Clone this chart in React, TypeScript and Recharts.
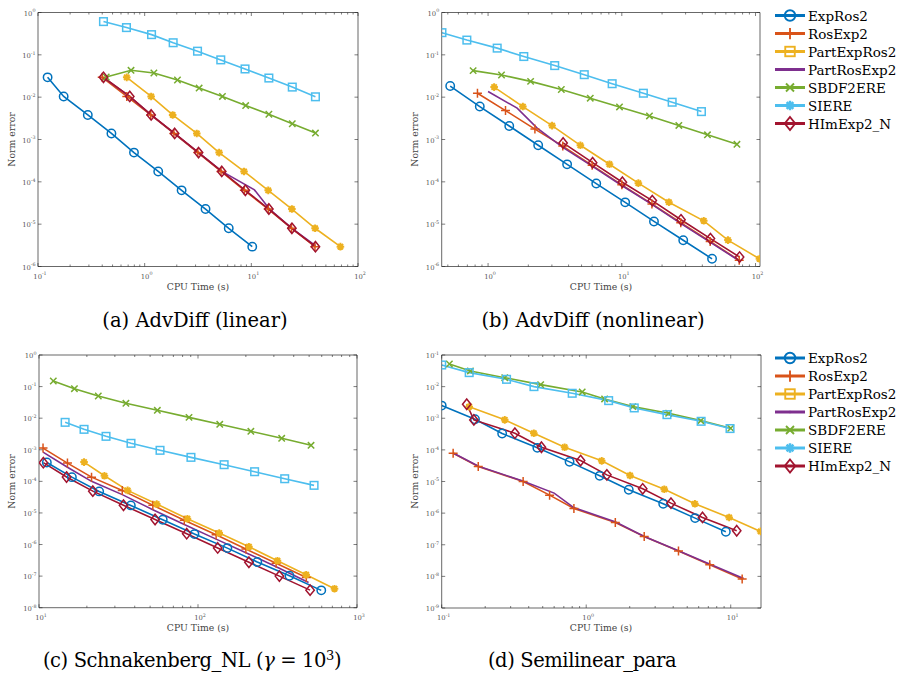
import React from "react";
import { LineChart, Line, XAxis, YAxis } from "recharts";

type Pt = [number, number];

const names = ["ExpRos2", "RosExp2", "PartExpRos2", "PartRosExp2", "SBDF2ERE", "SIERE", "HImExp2_N"];
const colors = ["#0072BD", "#D95319", "#EDB120", "#7E2F8E", "#77AC30", "#4DBEEE", "#A2142F"];
// marker used on the curves, and the one drawn in the legend (they differ in the original)
const plotMarks = ["circle", "plus", "star", "none", "cross", "square", "diamond"];
const legendMarks = ["circle", "plus", "square", "dot", "cross", "star", "diamond"];

// (a) AdvDiff (linear)
const aExpRos2: Pt[] = [[0.123, 2.94e-2], [0.174, 1.04e-2], [0.293, 3.8e-3], [0.488, 1.39e-3], [0.794, 4.9e-4], [1.34, 1.76e-4], [2.22, 6.3e-5], [3.72, 2.28e-5], [6.14, 8.0e-6], [10.2, 2.94e-6]];
const aRosExp2: Pt[] = [[0.4, 2.94e-2], [0.68, 1.04e-2], [1.14, 3.8e-3], [1.88, 1.39e-3], [3.15, 4.9e-4], [5.2, 1.76e-4], [8.6, 6.3e-5], [14.4, 2.28e-5], [23.8, 8.0e-6], [39.5, 2.94e-6]];
const aPartExpRos2: Pt[] = [[0.679, 2.94e-2], [1.15, 1.04e-2], [1.83, 3.8e-3], [3.08, 1.39e-3], [4.99, 4.9e-4], [8.54, 1.76e-4], [14.4, 6.3e-5], [24.0, 2.28e-5], [39.6, 8.0e-6], [68.4, 2.94e-6]];
const aPartRosExp2: Pt[] = [[0.41, 2.94e-2], [0.72, 1.04e-2], [1.15, 3.8e-3], [1.9, 1.39e-3], [3.2, 4.9e-4], [5.3, 1.76e-4], [10.7, 6.45e-5], [14.8, 2.28e-5], [24.0, 8.0e-6], [39.9, 3.1e-6]];
const aSBDF2ERE: Pt[] = [[0.436, 3.0e-2], [0.745, 4.31e-2], [1.22, 3.73e-2], [2.03, 2.54e-2], [3.24, 1.64e-2], [5.36, 1.04e-2], [8.85, 6.34e-3], [14.6, 3.94e-3], [24.2, 2.36e-3], [39.9, 1.42e-3]];
const aSIERE: Pt[] = [[0.411, 0.61], [0.675, 0.44], [1.16, 0.3], [1.85, 0.193], [3.13, 0.122], [5.17, 0.076], [8.73, 0.0464], [14.6, 0.0283], [24.2, 0.0173], [39.9, 0.0102]];
const aHImExp2_N: Pt[] = [[0.411, 2.94e-2], [0.725, 1.04e-2], [1.15, 3.8e-3], [1.91, 1.39e-3], [3.2, 4.9e-4], [5.28, 1.76e-4], [8.79, 6.3e-5], [14.6, 2.28e-5], [24.0, 8.0e-6], [39.9, 2.94e-6]];

// (b) AdvDiff (nonlinear)
const bExpRos2: Pt[] = [[0.521, 1.83e-2], [0.867, 6.0e-3], [1.44, 2.08e-3], [2.37, 7.33e-4], [3.9, 2.59e-4], [6.44, 9.1e-5], [10.6, 3.28e-5], [17.4, 1.16e-5], [28.8, 4.16e-6], [47.3, 1.52e-6]];
const bRosExp2: Pt[] = [[0.833, 1.24e-2], [1.35, 4.82e-3], [2.24, 1.76e-3], [3.62, 7.0e-4], [6.0, 2.45e-4], [10.0, 8.5e-5], [16.8, 3.0e-5], [27.6, 1.08e-5], [45.8, 3.9e-6], [75.5, 1.4e-6]];
const bPartExpRos2: Pt[] = [[1.11, 1.73e-2], [1.82, 6.0e-3], [3.01, 2.13e-3], [4.9, 7.3e-4], [8.09, 2.6e-4], [13.3, 9.3e-5], [22.5, 3.3e-5], [41.0, 1.2e-5], [62.2, 4.2e-6], [107, 1.52e-6]];
const bPartRosExp2: Pt[] = [[1.0, 1.36e-2], [1.65, 5.5e-3], [2.33, 1.85e-3], [3.6, 6.6e-4], [6.0, 2.35e-4], [10.0, 8.2e-5], [16.9, 2.9e-5], [27.7, 1.03e-5], [46.0, 3.7e-6], [76.0, 1.35e-6]];
const bSBDF2ERE: Pt[] = [[0.773, 4.24e-2], [1.26, 3.34e-2], [2.08, 2.36e-2], [3.53, 1.52e-2], [5.81, 9.46e-3], [9.61, 5.89e-3], [16.1, 3.6e-3], [26.7, 2.15e-3], [43.7, 1.29e-3], [72.6, 7.7e-4]];
const bSIERE: Pt[] = [[0.452, 0.334], [0.694, 0.223], [1.17, 0.144], [1.85, 0.0912], [3.15, 0.0557], [5.24, 0.034], [8.47, 0.0208], [14.5, 0.0124], [23.8, 0.0076], [39.4, 0.00456]];
const bHImExp2_N: Pt[] = [[3.64, 8.3e-4], [6.05, 2.83e-4], [10.1, 9.8e-5], [16.9, 3.6e-5], [27.7, 1.27e-5], [46.0, 4.56e-6], [76.0, 1.67e-6]];

// (c) Schnakenberg_NL
const cExpRos2: Pt[] = [[11.2, 3.97e-4], [16.1, 1.36e-4], [23.9, 4.8e-5], [37.8, 1.73e-5], [60.0, 6.1e-6], [95.0, 2.14e-6], [153, 7.7e-7], [236, 2.79e-7], [376, 1.03e-7], [596, 3.54e-8]];
const cRosExp2: Pt[] = [[10.6, 1.13e-3], [15.1, 3.79e-4], [21.4, 1.36e-4], [33.4, 5.17e-5], [52, 1.74e-5], [82, 5.9e-6], [130, 2.05e-6], [200, 7.2e-7], [310, 2.55e-7], [480, 9.0e-8]];
const cPartExpRos2: Pt[] = [[19.2, 4.07e-4], [25.8, 1.5e-4], [36.1, 5.17e-5], [55.0, 1.91e-5], [85.8, 6.55e-6], [136, 2.31e-6], [209, 8.5e-7], [316, 3.07e-7], [479, 1.11e-7], [722, 3.99e-8]];
const cPartRosExp2: Pt[] = [[10.6, 8.4e-4], [15.1, 2.8e-4], [21.4, 1.0e-4], [33.4, 3.8e-5], [52, 1.27e-5], [82, 4.3e-6], [130, 1.48e-6], [205, 5.2e-7], [320, 1.85e-7], [496, 6.3e-8]];
const cSBDF2ERE: Pt[] = [[12.3, 0.15], [16.7, 0.0859], [23.6, 0.0503], [35.2, 0.0295], [55.5, 0.0177], [87.8, 0.0106], [137, 6.38e-3], [215, 3.83e-3], [336, 2.3e-3], [514, 1.38e-3]];
const cSIERE: Pt[] = [[14.6, 7.38e-3], [19.2, 4.43e-3], [26.4, 2.66e-3], [37.9, 1.6e-3], [57.7, 9.6e-4], [90.3, 5.75e-4], [146, 3.37e-4], [227, 2.02e-4], [351, 1.21e-4], [537, 7.47e-5]];
const cHImExp2_N: Pt[] = [[10.65, 3.9e-4], [14.9, 1.37e-4], [21.8, 4.9e-5], [34.0, 1.75e-5], [53.7, 6.2e-6], [84.9, 2.2e-6], [133, 7.8e-7], [209, 2.75e-7], [325, 1.0e-7], [507, 3.6e-8]];

// (d) Semilinear_para
const dExpRos2: Pt[] = [[0.1, 2.51e-3], [0.17, 9.3e-4], [0.262, 3.28e-4], [0.459, 1.16e-4], [0.767, 4.18e-5], [1.24, 1.51e-5], [1.97, 5.46e-6], [3.41, 1.97e-6], [5.67, 6.95e-7], [9.25, 2.58e-7]];
const dRosExp2: Pt[] = [[0.12, 7.85e-5], [0.179, 2.98e-5], [0.366, 1.0e-5], [0.558, 3.7e-6], [0.822, 1.4e-6], [1.59, 5.07e-7], [2.52, 1.83e-7], [4.35, 6.3e-8], [7.16, 2.33e-8], [12.0, 8.2e-9]];
const dPartExpRos2: Pt[] = [[0.155, 2.33e-3], [0.273, 8.9e-4], [0.434, 3.36e-4], [0.709, 1.21e-4], [1.28, 4.5e-5], [2.01, 1.55e-5], [3.47, 5.7e-6], [5.65, 1.97e-6], [9.75, 7.3e-7], [16.1, 2.64e-7]];
const dPartRosExp2: Pt[] = [[0.12, 8.0e-5], [0.18, 3.05e-5], [0.36, 1.05e-5], [0.6, 4.3e-6], [0.82, 1.5e-6], [1.6, 5.2e-7], [2.5, 1.85e-7], [4.35, 6.5e-8], [7.2, 2.4e-8], [12.3, 8.6e-9]];
const dSBDF2ERE: Pt[] = [[0.113, 5.2e-2], [0.158, 3.13e-2], [0.273, 1.92e-2], [0.484, 1.156e-2], [0.938, 6.79e-3], [1.34, 4.08e-3], [2.1, 2.33e-3], [3.72, 1.44e-3], [6.21, 8.4e-4], [10.0, 4.83e-4]];
const dSIERE: Pt[] = [[0.1, 4.83e-2], [0.155, 2.77e-2], [0.281, 1.7e-2], [0.435, 1.0e-2], [0.8, 6.16e-3], [1.43, 3.61e-3], [2.15, 2.12e-3], [3.62, 1.3e-3], [6.24, 8.0e-4], [9.89, 4.72e-4]];
const dHImExp2_N: Pt[] = [[0.149, 2.77e-3], [0.167, 8.86e-4], [0.321, 3.36e-4], [0.49, 1.21e-4], [0.914, 4.6e-5], [1.39, 1.62e-5], [2.46, 5.86e-6], [3.86, 2.07e-6], [6.38, 7.3e-7], [11.0, 2.77e-7]];

// decade ticks
const aXTicks = [0.1, 1, 10, 100];
const bXTicks = [1, 10, 100];
const cXTicks = [10, 100, 1000];
const dXTicks = [0.1, 1, 10];
const abYTicks = [1e-6, 1e-5, 1e-4, 1e-3, 1e-2, 1e-1, 1];
const cYTicks = [1e-8, 1e-7, 1e-6, 1e-5, 1e-4, 1e-3, 1e-2, 1e-1, 1];
const dYTicks = [1e-9, 1e-8, 1e-7, 1e-6, 1e-5, 1e-4, 1e-3, 1e-2, 1e-1];

const captions = ["(a) AdvDiff (linear)", "(b) AdvDiff (nonlinear)", "(c) Schnakenberg_NL (", "(d) Semilinear_para"];

const SERIF = "DejaVu Serif";
const AX = "#262626";
const axisStyle = { stroke: AX, strokeWidth: 0.7 };

const rows = (pts: Pt[]) => pts.map(([t, e]) => ({ t, e }));

const isMajor = (v: number) => Math.abs(Math.log10(v) - Math.round(Math.log10(v))) < 1e-6;
const expOf = (v: number) => String(Math.round(Math.log10(v)));

function withMinors(majors: number[], dom: [number, number]) {
  const out: number[] = [];
  const lo = Math.floor(Math.log10(dom[0]));
  const hi = Math.ceil(Math.log10(dom[1]));
  for (let n = lo; n <= hi; n++) {
    for (let k = 1; k <= 9; k++) {
      const v = k * Math.pow(10, n);
      if (v >= dom[0] * 0.999 && v <= dom[1] * 1.001) out.push(k === 1 ? Math.pow(10, n) : v);
    }
  }
  majors.forEach((m) => { if (!out.includes(m) && m >= dom[0] * 0.999 && m <= dom[1] * 1.001) out.push(m); });
  return out.sort((a, b) => a - b);
}

function Pow10({ x, y, v, anchor }: { x: number; y: number; v: number; anchor: string }) {
  return (
    <text x={x} y={y} textAnchor={anchor as any} fontSize={6.8} fill="#555" fontFamily={SERIF}>
      <tspan>10</tspan>
      <tspan dy={-3.2} fontSize={4.8}>{expOf(v)}</tspan>
    </text>
  );
}

const BottomTick = (p: any) => {
  const v = p.payload.value;
  const maj = isMajor(v);
  return (
    <g>
      <line x1={p.x} x2={p.x} y1={p.y} y2={p.y - (maj ? 3.5 : 2)} stroke={AX} strokeWidth={0.6} />
      {maj && <Pow10 x={p.x + 2} y={p.y + 12} v={v} anchor="middle" />}
    </g>
  );
};
const TopTick = (p: any) => {
  const maj = isMajor(p.payload.value);
  return <line x1={p.x} x2={p.x} y1={p.y} y2={p.y + (maj ? 3.5 : 2)} stroke={AX} strokeWidth={0.6} />;
};
const LeftTick = (p: any) => {
  const v = p.payload.value;
  return (
    <g>
      <line x1={p.x} x2={p.x + 3.5} y1={p.y} y2={p.y} stroke={AX} strokeWidth={0.6} />
      <Pow10 x={p.x - 2.5} y={p.y + 3} v={v} anchor="end" />
    </g>
  );
};
const RightTick = (p: any) => <line x1={p.x} x2={p.x - 3.5} y1={p.y} y2={p.y} stroke={AX} strokeWidth={0.6} />;

function Marker({ kind, x, y, c, s = 1 }: { kind: string; x: number; y: number; c: string; s?: number }) {
  const sw = 1.5 * s;
  if (x == null || y == null) return null;
  switch (kind) {
    case "circle":
      return <circle cx={x} cy={y} r={4.2 * s} fill="none" stroke={c} strokeWidth={sw} />;
    case "plus": {
      const r = 4.5 * s;
      return <path d={`M${x - r},${y}H${x + r}M${x},${y - r}V${y + r}`} stroke={c} strokeWidth={sw} fill="none" />;
    }
    case "cross": {
      const r = 3.2 * s;
      return <path d={`M${x - r},${y - r}L${x + r},${y + r}M${x - r},${y + r}L${x + r},${y - r}`} stroke={c} strokeWidth={sw} fill="none" />;
    }
    case "square": {
      const r = 3.8 * s;
      return <rect x={x - r} y={y - r} width={2 * r} height={2 * r} fill="none" stroke={c} strokeWidth={sw} />;
    }
    case "diamond": {
      const rx = 4.2 * s, ry = 5.2 * s;
      return <polygon points={`${x},${y - ry} ${x + rx},${y} ${x},${y + ry} ${x - rx},${y}`} fill="none" stroke={c} strokeWidth={sw} />;
    }
    case "star": {
      const r = 3.8 * s, d = 2.7 * s;
      return (
        <path
          d={`M${x - r},${y}H${x + r}M${x},${y - r}V${y + r}M${x - d},${y - d}L${x + d},${y + d}M${x - d},${y + d}L${x + d},${y - d}`}
          stroke={c}
          strokeWidth={2 * s}
          fill="none"
        />
      );
    }
    case "dot":
      return <circle cx={x} cy={y} r={1 * s} fill={c} />;
    default:
      return null;
  }
}

type PanelProps = {
  left: number;
  top: number;
  width: number;
  height: number;
  // target plot rectangle, in page pixels
  box: { x0: number; y0: number; x1: number; y1: number };
  xDomain: [number, number];
  yDomain: [number, number];
  xMajor: number[];
  yMajor: number[];
  series: Pt[][];
};

function Panel({ left, top, width, height, box, xDomain, yDomain, xMajor, yMajor, series }: PanelProps) {
  const xTicks = withMinors(xMajor, xDomain);
  const frame = [{ t: xDomain[0], e: yDomain[0] }, { t: xDomain[1], e: yDomain[1] }];
  // each axis takes 1px, so take it off the margins
  const margin = {
    left: box.x0 - left - 1,
    top: box.y0 - top - 1,
    right: left + width - box.x1 - 1,
    bottom: top + height - box.y1 - 1,
  };
  return (
    <div style={{ position: "absolute", left, top }}>
      <LineChart width={width} height={height} margin={margin} style={{ overflow: "visible" }}>
        <XAxis xAxisId="b" type="number" dataKey="t" scale="log" domain={xDomain} allowDataOverflow ticks={xTicks} interval={0}
          height={1} tickSize={0} tickMargin={0} tickLine={false} axisLine={axisStyle} tick={BottomTick} />
        <XAxis xAxisId="t" orientation="top" type="number" dataKey="t" scale="log" domain={xDomain} allowDataOverflow ticks={xTicks} interval={0}
          height={1} tickSize={0} tickMargin={0} tickLine={false} axisLine={axisStyle} tick={TopTick} />
        <YAxis yAxisId="l" type="number" dataKey="e" scale="log" domain={yDomain} allowDataOverflow ticks={yMajor} interval={0}
          width={1} tickSize={0} tickMargin={0} tickLine={false} axisLine={axisStyle} tick={LeftTick} />
        <YAxis yAxisId="r" orientation="right" type="number" dataKey="e" scale="log" domain={yDomain} allowDataOverflow ticks={yMajor} interval={0}
          width={1} tickSize={0} tickMargin={0} tickLine={false} axisLine={axisStyle} tick={RightTick} />
        <Line xAxisId="t" yAxisId="r" data={frame} dataKey="e" stroke="none" dot={false} activeDot={false} isAnimationActive={false} />
        {series.map((pts, i) => (
          <Line
            key={names[i]}
            xAxisId="b"
            yAxisId="l"
            data={rows(pts)}
            dataKey="e"
            name={names[i]}
            stroke={colors[i]}
            strokeWidth={1.6}
            dot={plotMarks[i] === "none" ? false : (p: any) => <Marker key={`${names[i]}-${p.index}`} kind={plotMarks[i]} x={p.cx} y={p.cy} c={colors[i]} />}
            activeDot={false}
            isAnimationActive={false}
          />
        ))}
      </LineChart>
    </div>
  );
}

function LegendBlock({ x, y0, step }: { x: number; y0: number; step: number }) {
  return (
    <g>
      {names.map((n, i) => {
        const y = y0 + i * step;
        return (
          <g key={n}>
            <line x1={x} x2={x + 30} y1={y} y2={y} stroke={colors[i]} strokeWidth={3} />
            <Marker kind={legendMarks[i]} x={x + 15} y={y} c={colors[i]} s={1.25} />
            <text x={x + 33} y={y + 5} fontSize={13.5} fontFamily={SERIF} fill="#000">{n}</text>
          </g>
        );
      })}
    </g>
  );
}

function AxisTitles({ cx, bottom, ylx, cy }: { cx: number; bottom: number; ylx: number; cy: number }) {
  return (
    <g>
      <text x={cx} y={bottom + 23} textAnchor="middle" fontFamily={SERIF} fontSize={9.3} fill="#444">CPU Time (s)</text>
      <text x={ylx} y={cy} textAnchor="middle" fontFamily={SERIF} fontSize={9.3} fill="#444" transform={`rotate(-90 ${ylx} ${cy})`}>Norm error</text>
    </g>
  );
}

const capStyle = { fontFamily: SERIF, fontSize: 19.5, fill: "#000" };

export default function App() {
  return (
    <div style={{ position: "absolute", left: 0, top: 0, width: 897, height: 675, background: "#fff", overflow: "hidden" }}>
      <Panel left={0} top={0} width={390} height={300} box={{ x0: 38, y0: 12.5, x1: 358, y1: 266.5 }}
        xDomain={[0.1, 100]} yDomain={[1e-6, 1]} xMajor={aXTicks} yMajor={abYTicks}
        series={[aExpRos2, aRosExp2, aPartExpRos2, aPartRosExp2, aSBDF2ERE, aSIERE, aHImExp2_N]} />
      <Panel left={395} top={0} width={380} height={300} box={{ x0: 441.7, y0: 12.5, x1: 760, y1: 266.5 }}
        xDomain={[0.45, 108]} yDomain={[1e-6, 1]} xMajor={bXTicks} yMajor={abYTicks}
        series={[bExpRos2, bRosExp2, bPartExpRos2, bPartRosExp2, bSBDF2ERE, bSIERE, bHImExp2_N]} />
      <Panel left={0} top={340} width={390} height={300} box={{ x0: 39, y0: 355, x1: 357, y1: 607.7 }}
        xDomain={[10, 1000]} yDomain={[1e-8, 1]} xMajor={cXTicks} yMajor={cYTicks}
        series={[cExpRos2, cRosExp2, cPartExpRos2, cPartRosExp2, cSBDF2ERE, cSIERE, cHImExp2_N]} />
      <Panel left={395} top={340} width={380} height={300} box={{ x0: 441.7, y0: 355, x1: 761, y1: 608 }}
        xDomain={[0.1, 16.2]} yDomain={[1e-9, 0.1]} xMajor={dXTicks} yMajor={dYTicks}
        series={[dExpRos2, dRosExp2, dPartExpRos2, dPartRosExp2, dSBDF2ERE, dSIERE, dHImExp2_N]} />

      <svg width={897} height={675} style={{ position: "absolute", left: 0, top: 0, pointerEvents: "none" }}>
        <AxisTitles cx={198} bottom={266.5} ylx={15} cy={139.5} />
        <AxisTitles cx={601} bottom={266.5} ylx={418} cy={139.5} />
        <AxisTitles cx={198} bottom={607.7} ylx={15} cy={481.5} />
        <AxisTitles cx={601} bottom={608} ylx={418} cy={481.5} />

        <LegendBlock x={775} y0={15.5} step={18} />
        <LegendBlock x={775} y0={358} step={18} />

        <text x={195} y={327} textAnchor="middle" {...capStyle}>{captions[0]}</text>
        <text x={593} y={327} textAnchor="middle" {...capStyle}>{captions[1]}</text>
        <text x={192} y={667} textAnchor="middle" {...capStyle} letterSpacing={-0.4}>
          {captions[2]}
          <tspan fontStyle="italic">γ</tspan>
          <tspan> = 10</tspan>
          <tspan dy={-7} fontSize={13}>3</tspan>
          <tspan dy={7}>)</tspan>
        </text>
        <text x={582} y={667} textAnchor="middle" {...capStyle} letterSpacing={-0.4}>{captions[3]}</text>
      </svg>
    </div>
  );
}
